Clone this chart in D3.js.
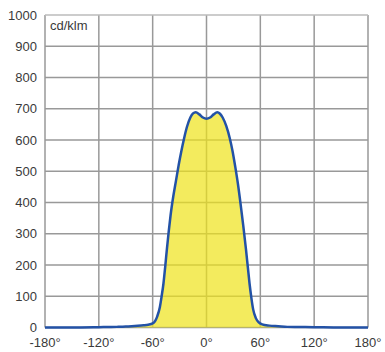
<!DOCTYPE html>
<meta charset="utf-8">
<script src="https://cdn.jsdelivr.net/npm/d3@7"></script>
<style>
body { margin: 0; background: #fff; }
text { font: 13px "Liberation Sans", Arial, sans-serif; fill: #3a3a3a; }
</style>
<body>
<script>

// luminous intensity curve, angle (deg) vs cd/klm
var angles = [-180, -150, -120, -100, -90, -80, -70, -65, -60, -57, -55, -52, -50, -48, -46, -44, -42, -40, -37, -34, -31, -28, -25, -22, -18, -15, -12, -8, -4, 0,
              4, 8, 12, 15, 18, 22, 26, 29, 32, 35, 38, 41, 44, 46, 48, 50, 52, 55, 58, 62, 70, 80, 90, 120, 150, 180];
var values = [0, 0, 1, 2, 3, 5, 7, 9, 13, 22, 35, 65, 100, 140, 195, 255, 310, 360, 420, 470, 520, 565, 605, 640, 672, 685, 689, 682, 672, 668,
              672, 682, 689, 684, 672, 645, 605, 565, 515, 460, 395, 325, 250, 195, 140, 95, 58, 30, 17, 10, 6, 4, 2, 1, 0, 0];

var xTicks = [-180, -120, -60, 0, 60, 120, 180];
var yTicks = [0, 100, 200, 300, 400, 500, 600, 700, 800, 900, 1000];
var unitLabel = "cd/klm";

var width = 385, height = 352;
var margin = {left: 45, right: 17, top: 15, bottom: 24};

var data = angles.map(function(a, i) { return {a: a, v: values[i]}; });

var svg = d3.select("body").append("svg")
    .attr("width", width)
    .attr("height", height);

var x = d3.scaleLinear().domain([-180, 180]).range([margin.left, width - margin.right]);
var y = d3.scaleLinear().domain([0, 1000]).range([height - margin.bottom - 0.5, margin.top]);

// grid
svg.append("g").selectAll("line.v")
    .data(xTicks).enter().append("line")
    .attr("x1", function(d) { return x(d); })
    .attr("x2", function(d) { return x(d); })
    .attr("y1", y(0)).attr("y2", y(1000))
    .style("stroke", "#999").style("stroke-width", 1.5);

svg.append("g").selectAll("line.h")
    .data(yTicks).enter().append("line")
    .attr("x1", x(-180)).attr("x2", x(180))
    .attr("y1", function(d) { return y(d); })
    .attr("y2", function(d) { return y(d); })
    .style("stroke", function(d) { return d == 1000 ? "#bbb" : "#999"; })
    .style("stroke-width", 1.5);

// filled area
var area = d3.area()
    .x(function(d) { return x(d.a); })
    .y0(y(0))
    .y1(function(d) { return y(d.v); })
    .curve(d3.curveMonotoneX);

svg.append("path")
    .datum(data)
    .attr("d", area)
    .style("fill", "#eee219")
    .style("fill-opacity", 0.7);

var line = d3.line()
    .x(function(d) { return x(d.a); })
    .y(function(d) { return y(d.v); })
    .curve(d3.curveMonotoneX);

svg.append("path")
    .datum(data)
    .attr("d", line)
    .style("fill", "none")
    .style("stroke", "#2352a6")
    .style("stroke-width", 2.5)
    .style("stroke-linejoin", "round");

// axis labels
svg.append("g").selectAll("text")
    .data(yTicks).enter().append("text")
    .attr("x", 37)
    .attr("y", function(d) { return y(d); })
    .attr("dy", "0.35em")
    .attr("text-anchor", "end")
    .text(function(d) { return d; });

svg.append("g").selectAll("text")
    .data(xTicks).enter().append("text")
    .attr("x", function(d) { return x(d); })
    .attr("y", 347)
    .attr("text-anchor", "middle")
    .text(function(d) { return d + "°"; });

svg.append("text")
    .attr("x", 50)
    .attr("y", 30)
    .text(unitLabel);

</script>
</body>
